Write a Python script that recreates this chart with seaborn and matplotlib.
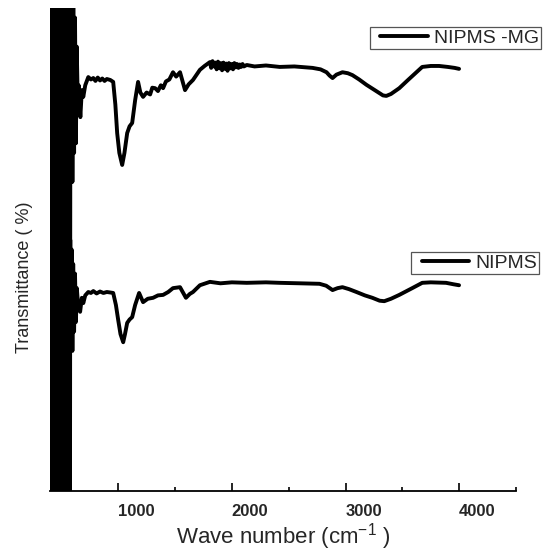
import matplotlib
matplotlib.use("Agg")
import matplotlib.pyplot as plt
from matplotlib.ticker import MultipleLocator
from matplotlib.legend_handler import HandlerLine2D
import numpy as np
import pandas as pd
import seaborn as sns

# FTIR spectra (transmittance in arbitrary %, offset traces)

# noisy low-wavenumber part (400-575 cm-1), both traces go far off scale there
low_wn_mg = np.arange(400, 580, 5)
low_t_mg = [130, -30, 128, -28, 130, -30, 126, -30, 130, -26, 130, -30,
            128, -30, 130, -28, 130, -30, 127, -30, 130, -30, 129, -27,
            130, -30, 128, -30, 130, -29, 130, -30, 126, -30, 130, -30]
low_wn_n = np.arange(400, 560, 5)
low_t_n = [130, -30, 127, -30, 130, -28, 130, -30, 128, -30, 130, -27,
           130, -30, 129, -30, 130, -30, 126, -29, 130, -30, 128, -30,
           130, -30, 127, -30, 130, -28, 130, -30]

# NIPMS -MG (upper trace)
wn_mg = [580, 585, 590, 597, 605, 612, 620, 628, 635, 645, 652, 667, 680, 693,
         710, 737, 760, 781, 800, 820, 840, 860, 880, 900, 930, 956, 975, 991,
         1010, 1035, 1055, 1079, 1100, 1123, 1149, 1175, 1195, 1219, 1250, 1281,
         1300, 1325, 1350, 1375, 1395, 1420, 1450, 1482, 1510, 1544, 1588, 1620,
         1658, 1690, 1719, 1760, 1807, 1818, 1830, 1842, 1854, 1866, 1878, 1890,
         1902, 1914, 1926, 1938, 1950, 1962, 1974, 1986, 1998, 2010, 2022, 2034,
         2046, 2058, 2070, 2082, 2094, 2106, 2131, 2200, 2300, 2421,
         2550, 2710, 2780, 2833, 2860, 2886, 2920, 2973, 3020, 3061, 3120, 3184,
         3270, 3330, 3359, 3400, 3473, 3550, 3620, 3675, 3750, 3824, 3900, 3960,
         3999]
t_mg = [110, 64, 105, 64, 100, 70, 98, 72, 92, 80, 84, 77.4, 83, 81.6,
        84, 85.7, 85.2, 85.5, 84.9, 85.6, 85.0, 85.4, 84.9, 85.3, 85.1, 84.7, 80, 74.1,
        70, 67.5, 70, 74.1, 75.5, 76.2, 80.9, 84.7, 82.5, 81.6, 82.5, 82.1,
        83.5, 83.4, 82.8, 84.0, 83.4, 84.8, 85.2, 86.7, 85.8, 86.7, 83.0, 84.2,
        85.1, 86.2, 87.2, 88.0, 88.8, 87.6, 89.0, 87.9, 88.7, 87.3, 88.9, 87.5,
        88.6, 87.1, 88.7, 87.4, 88.5, 87.0, 88.6, 87.5, 88.4, 87.3, 88.6, 87.7,
        88.4, 87.6, 88.3, 87.8, 88.4, 87.9, 88.2, 87.9, 88.1, 87.8,
        87.9, 87.6, 87.3, 86.7, 86.0, 85.5, 86.2, 86.7, 86.5, 86.1, 85.2, 84.1,
        82.8, 81.9, 81.8, 82.2, 83.4, 85.1, 86.6, 87.8, 88.0, 88.0, 87.8, 87.6,
        87.4]

# NIPMS (lower trace)
wn_n = [560, 562, 566, 572, 578, 584, 590, 597, 604, 612, 620, 628, 636, 644,
        652, 665, 680, 693, 710, 737, 760, 781, 810, 840, 870, 900, 930, 956,
        980, 1000, 1020, 1044, 1060, 1079, 1100, 1123, 1149, 1184, 1219, 1260,
        1307, 1350, 1395, 1440, 1482, 1544, 1596, 1630, 1658, 1719, 1807, 1900,
        2000, 2131, 2300, 2421, 2600, 2771, 2830, 2886, 2930, 2973, 3030, 3096,
        3170, 3236, 3300, 3341, 3400, 3473, 3530, 3587, 3675, 3750, 3885, 3950,
        3999]
t_n = [60, 2.7, 55, 20, 52, 30, 50, 29, 47, 33, 45, 35, 42, 39.5,
       38, 37.1, 40, 38.9, 40.5, 41.2, 41.0, 41.4, 40.9, 41.3, 41.0, 41.2, 41.1, 41.0,
       38.5, 35.4, 32.5, 30.8, 32.5, 34.8, 35.5, 36.0, 38.5, 41.0, 39.1, 39.8,
       40.0, 40.5, 40.6, 41.2, 42.0, 42.2, 40.0, 40.8, 41.2, 42.6, 43.3, 43.0,
       43.2, 43.1, 43.2, 43.1, 43.0, 42.9, 42.5, 41.6, 42.0, 42.2, 41.8, 41.2,
       40.5, 40.0, 39.4, 39.3, 39.8, 40.6, 41.3, 42.0, 43.1, 43.2, 43.1, 42.8,
       42.6]

df_mg = pd.DataFrame({"wn": list(low_wn_mg) + wn_mg, "t": low_t_mg + t_mg})
df_n = pd.DataFrame({"wn": list(low_wn_n) + wn_n, "t": low_t_n + t_n})

sns.set_style("white")
plt.rcParams["font.family"] = ["Liberation Sans", "DejaVu Sans"]
plt.rcParams["mathtext.fontset"] = "custom"
plt.rcParams["mathtext.rm"] = "Liberation Sans"
plt.rcParams["mathtext.it"] = "Liberation Sans:italic"

fig = plt.figure(figsize=(5.45, 5.53), dpi=100)
ax = fig.add_axes([50 / 545, 1 - 491 / 553, 466 / 545, 483 / 553])

sns.lineplot(data=df_mg, x="wn", y="t", color="black", lw=2.8, sort=False,
             estimator=None, ax=ax, label="NIPMS -MG", legend=False)
sns.lineplot(data=df_n, x="wn", y="t", color="black", lw=2.8, sort=False,
             estimator=None, ax=ax, label="NIPMS", legend=False)

ax.set_xlim(400, 4500)
ax.set_ylim(0, 100)
ax.set_yticks([])
ax.set_ylabel("")
for s in ["left", "top", "right"]:
    ax.spines[s].set_visible(False)
ax.spines["bottom"].set_color("black")
ax.spines["bottom"].set_linewidth(1.3)

ax.set_xticks([1000, 2000, 3000, 4000])
ax.xaxis.set_minor_locator(MultipleLocator(500))
ax.tick_params(axis="x", which="major", direction="in", length=6, width=1.2,
               color="black", pad=9, labelsize=12, bottom=True)
ax.tick_params(axis="x", which="minor", direction="in", length=3, width=1.2,
               color="black", bottom=True)
for lab in ax.get_xticklabels():
    lab.set_fontweight("bold")
    lab.set_horizontalalignment("left")

ax.set_xlabel(r"Wave number (cm$^{-1}$ )", fontsize=16, labelpad=2)
fig.text(25 / 545, 1 - 277 / 553, "Transmittance ( %)", rotation=90,
         ha="center", va="center", fontsize=13)

lines = ax.get_lines()
leg_kw = dict(loc="upper right", bbox_transform=fig.transFigure, borderaxespad=0,
              fancybox=False, edgecolor="#555555", framealpha=1, fontsize=14,
              handlelength=2.9, handletextpad=0.3, borderpad=0.1)
leg1 = ax.legend([lines[0]], ["NIPMS -MG"], bbox_to_anchor=(541 / 545, 1 - 27 / 553),
                 handler_map={lines[0]: HandlerLine2D(xpad=0.45)}, **leg_kw)
leg1.get_frame().set_linewidth(0.9)
ax.add_artist(leg1)
leg2 = ax.legend([lines[1]], ["NIPMS"], bbox_to_anchor=(539 / 545, 1 - 252 / 553),
                 handler_map={lines[1]: HandlerLine2D(xpad=0.45)}, **leg_kw)
leg2.get_frame().set_linewidth(0.9)

fig.savefig("out.png", dpi=100)
